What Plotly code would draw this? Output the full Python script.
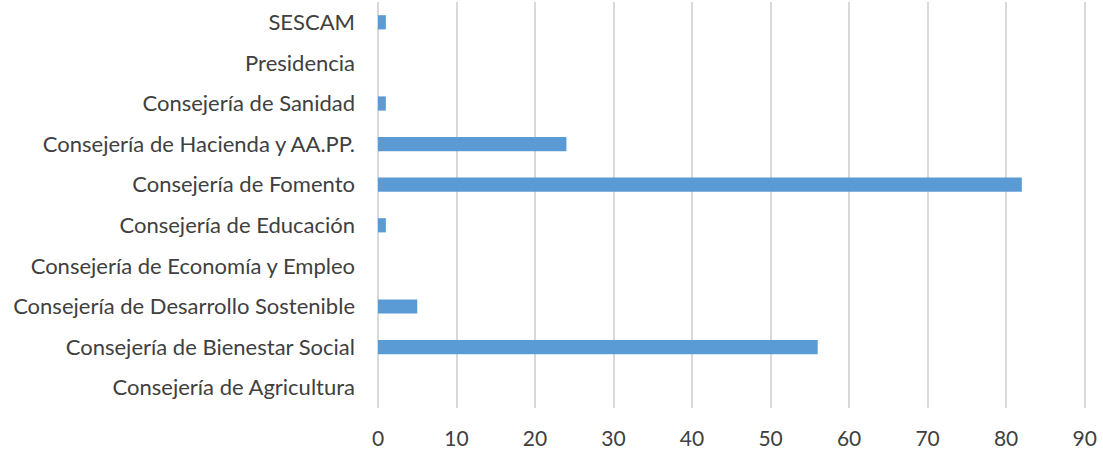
import plotly.graph_objects as go

categories = [
    "Consejería de Agricultura",
    "Consejería de Bienestar Social",
    "Consejería de Desarrollo Sostenible",
    "Consejería de Economía y Empleo",
    "Consejería de Educación",
    "Consejería de Fomento",
    "Consejería de Hacienda y AA.PP.",
    "Consejería de Sanidad",
    "Presidencia",
    "SESCAM",
]
values = [0, 56, 5, 0, 1, 82, 24, 1, 0, 1]
x_ticks = [0, 10, 20, 30, 40, 50, 60, 70, 80, 90]

fig = go.Figure(
    go.Bar(
        x=values,
        y=categories,
        orientation="h",
        marker=dict(color="#5b9bd5", line=dict(width=0)),
    )
)

font_family = "Lato, 'Open Sans', sans-serif"

fig.update_layout(
    width=1103,
    height=453,
    margin=dict(l=378, r=16, t=2, b=45),
    paper_bgcolor="white",
    plot_bgcolor="white",
    bargap=0.65,
    showlegend=False,
    font=dict(family=font_family, size=22, color="#404040"),
)

fig.update_xaxes(
    range=[0, 90.3],
    tickvals=x_ticks,
    showgrid=True,
    gridcolor="#d9d9d9",
    gridwidth=1.5,
    zeroline=True,
    zerolinecolor="#d9d9d9",
    zerolinewidth=1.5,
    showline=False,
    ticks="",
    ticklabelstandoff=16,
    tickfont=dict(size=21, color="#404040"),
)

fig.update_yaxes(
    categoryorder="array",
    categoryarray=categories,
    showgrid=False,
    zeroline=False,
    showline=False,
    ticks="",
    ticklabelstandoff=22,
    tickfont=dict(size=22, color="#404040"),
)

fig.write_html(
    "out.html",
    config={"displayModeBar": False},
    post_script="document.body.style.margin='0';document.body.style.overflow='hidden';",
)
